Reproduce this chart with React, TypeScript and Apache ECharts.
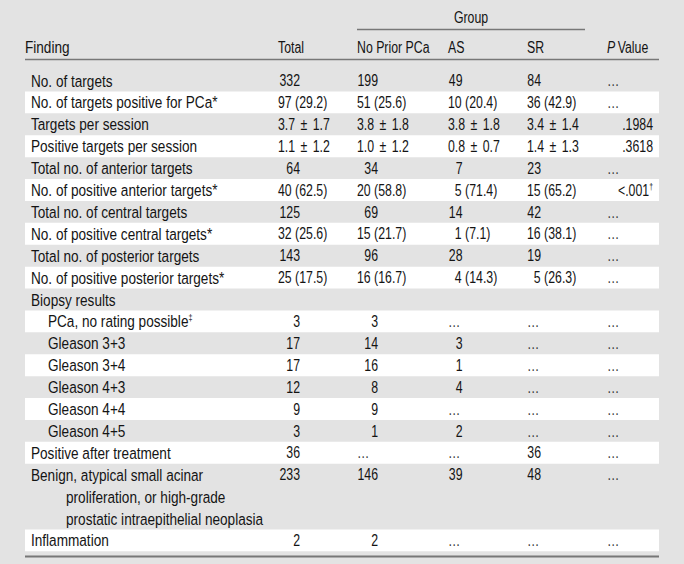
import React, { useEffect, useRef } from "react";
import * as echarts from "echarts";

// ---- data ----
const groupTitle = "Group";
const headers = ["Finding", "Total", "No Prior PCa", "AS", "SR", "P Value"];
const findings = [
  "No. of targets",
  "No. of targets positive for PCa*",
  "Targets per session",
  "Positive targets per session",
  "Total no. of anterior targets",
  "No. of positive anterior targets*",
  "Total no. of central targets",
  "No. of positive central targets*",
  "Total no. of posterior targets",
  "No. of positive posterior targets*",
  "Biopsy results",
  "PCa, no rating possible‡",
  "Gleason 3+3",
  "Gleason 3+4",
  "Gleason 4+3",
  "Gleason 4+4",
  "Gleason 4+5",
  "Positive after treatment",
  "Benign, atypical small acinar\nproliferation, or high-grade\nprostatic intraepithelial neoplasia",
  "Inflammation",
];
const indentLevel = [0, 0, 0, 0, 0, 0, 0, 0, 0, 0, 0, 1, 1, 1, 1, 1, 1, 0, 0, 0];
const totalCol = ["332", "97 (29.2)", "3.7 ± 1.7", "1.1 ± 1.2", "64", "40 (62.5)", "125", "32 (25.6)", "143", "25 (17.5)", "", "3", "17", "17", "12", "9", "3", "36", "233", "2"];
const noPriorCol = ["199", "51 (25.6)", "3.8 ± 1.8", "1.0 ± 1.2", "34", "20 (58.8)", "69", "15 (21.7)", "96", "16 (16.7)", "", "3", "14", "16", "8", "9", "1", "…", "146", "2"];
const asCol = ["49", "10 (20.4)", "3.8 ± 1.8", "0.8 ± 0.7", "7", "5 (71.4)", "14", "1 (7.1)", "28", "4 (14.3)", "", "…", "3", "1", "4", "…", "2", "…", "39", "…"];
const srCol = ["84", "36 (42.9)", "3.4 ± 1.4", "1.4 ± 1.3", "23", "15 (65.2)", "42", "16 (38.1)", "19", "5 (26.3)", "", "…", "…", "…", "…", "…", "…", "36", "48", "…"];
const pCol = ["…", "…", ".1984", ".3618", "…", "<.001†", "…", "…", "…", "…", "", "…", "…", "…", "…", "…", "…", "…", "…", "…"];

// ---- layout / style ----
const FONT = "'Liberation Sans', Arial, Helvetica, sans-serif";
const FS_LABEL = 17;
const SX_LABEL = 0.8;
const FS_NUM = 16;
const SX_NUM = 0.77;
const FS_HEAD = 16;
const SX_HEAD = 0.77;
const FILL = "#141414";
const DOT = "#333333";
const BG = "#e3e3e3";
const LINE = "#777777";
const ROW_H = 21.9;
const FIRST_Y = 80.5;
const TABLE_L = 25;
const TABLE_R = 659;
const LABEL_X = [31, 48];
const CONT_X = 66;
const COL_LEFT = [278, 357, 448, 527];
const COL_ANCHOR = [300, 378, 462.5, 541];
const P_LEFT = 607;
const P_RIGHT = 653;
const DIGIT = 0.556 * FS_NUM * SX_NUM;

function makeRich(fs: number) {
  return {
    n: { fontSize: fs, fontFamily: FONT, fill: FILL, lineHeight: 15 },
    s: { fontSize: 9, fontFamily: FONT, fill: FILL, lineHeight: 10, verticalAlign: "top" },
    i: { fontSize: fs, fontFamily: FONT, fill: FILL, fontStyle: "italic", lineHeight: 15 },
    pm: { fontSize: fs, fontFamily: FONT, fill: FILL, lineHeight: 15, padding: [0, 7, 0, 7] },
  };
}

function richify(s: string): string {
  let out = "";
  let buf = "";
  for (const ch of s) {
    if (ch === "†" || ch === "‡") {
      if (buf) out += `{n|${buf}}`;
      buf = "";
      out += `{s|${ch}}`;
    } else buf += ch;
  }
  if (buf) out += `{n|${buf}}`;
  return out;
}

function textEl(x: number, y: number, text: string, align: string, fs: number, sx: number, opts: any = {}) {
  return {
    type: "text",
    x,
    y,
    scaleX: sx,
    z: 10,
    silent: true,
    style: {
      text,
      x: 0,
      y: 0,
      fontSize: fs,
      fontFamily: FONT,
      fill: opts.fill || FILL,
      align,
      verticalAlign: "middle",
      textAlign: align,
      textVerticalAlign: "middle",
      rich: opts.rich ? makeRich(fs) : undefined,
    },
  };
}

const num = (x: number, y: number, t: string, align: string, opts: any = {}) =>
  textEl(x, y, t, align, FS_NUM, SX_NUM, opts);

function cellEl(col: number, s: string, y: number) {
  if (!s) return null;
  if (s === "…") return num(COL_LEFT[col], y, s, "left", { fill: DOT });
  if (s.includes("±")) {
    const [a, b] = s.split(" ± ");
    return num(COL_LEFT[col], y, `{n|${a}}{pm|±}{n|${b}}`, "left", { rich: true });
  }
  if (/^\d+$/.test(s)) return num(COL_ANCHOR[col], y, s, "right");
  const lead = s.split(" ")[0];
  const x = COL_LEFT[col] + Math.max(0, 2 - lead.length) * DIGIT;
  return num(x, y, s, "left");
}

function buildElements() {
  const els: any[] = [];
  let line = 0;
  const rowY: number[] = [];
  findings.forEach((f, i) => {
    const parts = f.split("\n");
    const top = FIRST_Y - ROW_H / 2 + line * ROW_H;
    if (i % 2 === 1) {
      els.push({
        type: "rect",
        z: 1,
        silent: true,
        shape: { x: TABLE_L, y: top, width: TABLE_R - TABLE_L, height: parts.length * ROW_H },
        style: { fill: "#ffffff" },
      });
    }
    parts.forEach((p, k) => {
      const y = FIRST_Y + (line + k) * ROW_H;
      const x = k === 0 ? LABEL_X[indentLevel[i]] : CONT_X;
      els.push(textEl(x, y, richify(p), "left", FS_LABEL, SX_LABEL, { rich: true }));
    });
    rowY.push(FIRST_Y + line * ROW_H);
    line += parts.length;
  });

  const cols = [totalCol, noPriorCol, asCol, srCol];
  findings.forEach((_, i) => {
    cols.forEach((c, ci) => {
      const e = cellEl(ci, c[i], rowY[i]);
      if (e) els.push(e);
    });
    const p = pCol[i];
    if (p === "…") els.push(num(P_LEFT, rowY[i], p, "left", { fill: DOT }));
    else if (p) els.push(num(P_RIGHT, rowY[i], richify(p), "right", { rich: true }));
  });

  const HY = 47;
  els.push(textEl(TABLE_L, HY, headers[0], "left", FS_LABEL, SX_LABEL));
  COL_LEFT.forEach((x, ci) => els.push(textEl(x, HY, headers[ci + 1], "left", FS_HEAD, SX_HEAD)));
  const pv = headers[5];
  els.push(
    textEl(P_LEFT, HY, `{i|${pv.charAt(0)}}{n|\u2009${pv.slice(2)}}`, "left", FS_HEAD, SX_HEAD, { rich: true })
  );
  els.push(textEl((COL_LEFT[1] + 585) / 2, 17, groupTitle, "center", FS_HEAD, SX_HEAD));

  const rule = (x1: number, x2: number, y: number, w: number) => ({
    type: "line",
    z: 5,
    silent: true,
    shape: { x1, y1: y, x2, y2: y },
    style: { stroke: LINE, lineWidth: w },
  });
  els.push(rule(COL_LEFT[1], 585, 29.5, 1.5));
  els.push(rule(TABLE_L, TABLE_R, 59.5, 1.5));
  els.push(rule(TABLE_L, TABLE_R, 556.5, 2));
  return els;
}

export default function App() {
  const ref = useRef<HTMLDivElement>(null);
  useEffect(() => {
    if (!ref.current) return;
    const chart = echarts.init(ref.current, undefined, { renderer: "svg" });
    chart.setOption({
      animation: false,
      backgroundColor: BG,
      graphic: { elements: buildElements() },
    });
    return () => chart.dispose();
  }, []);
  return (
    <div
      ref={ref}
      style={{ position: "fixed", left: 0, top: 0, width: 684, height: 564 }}
    />
  );
}
